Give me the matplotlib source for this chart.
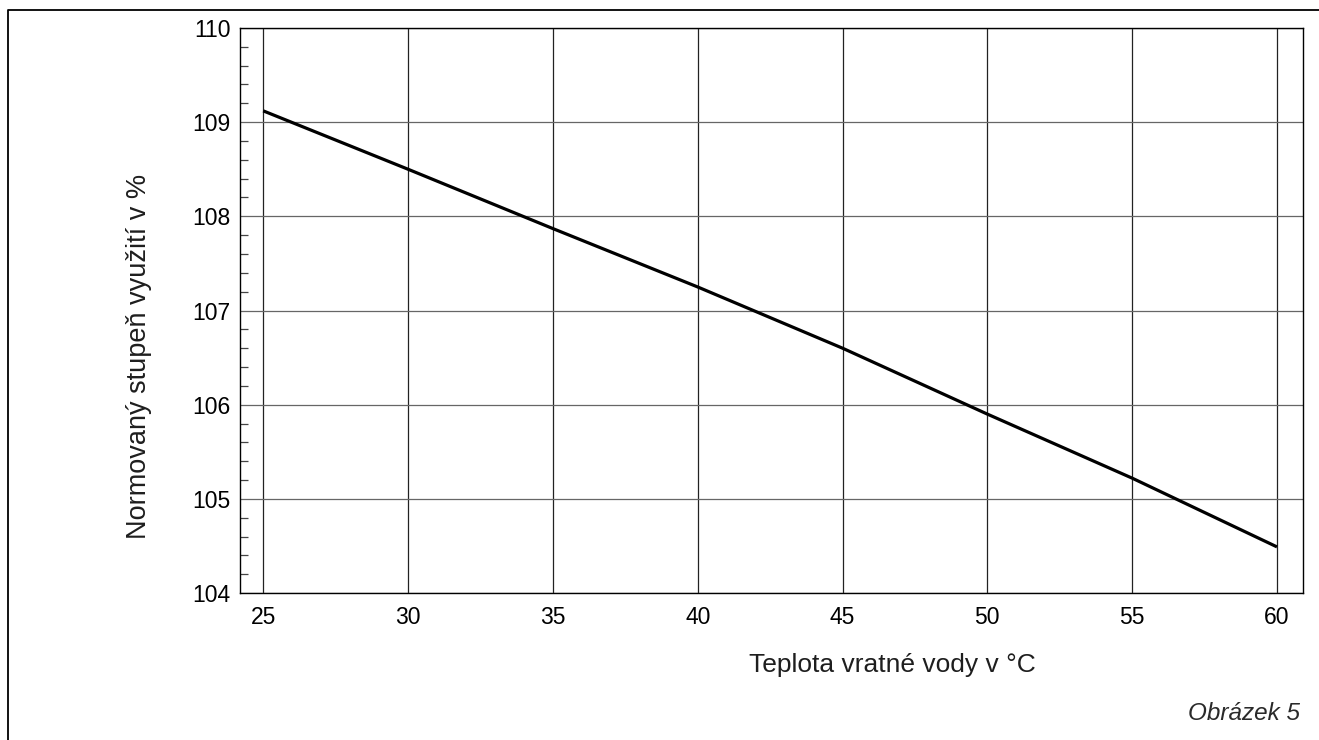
import matplotlib
matplotlib.use("Agg")
from matplotlib import pyplot as plt
from matplotlib.lines import Line2D
from matplotlib.ticker import MultipleLocator

# values
temperature = [25, 30, 35, 40, 45, 50, 55, 60]
efficiency = [109.12, 108.5, 107.87, 107.25, 106.6, 105.9, 105.22, 104.49]

x_ticks = [25, 30, 35, 40, 45, 50, 55, 60]
y_ticks = [104, 105, 106, 107, 108, 109, 110]

x_label = "Teplota vratné vody v °C"
y_label = "Normovaný stupeň využití v %"
caption = "Obrázek 5"

plt.rcParams['font.family'] = ['Liberation Sans', 'DejaVu Sans']

fig = plt.figure(figsize=(13.19, 7.40), dpi=100)
ax = fig.add_axes([0.182, 0.1986, 0.8059, 0.7636])

ax.plot(temperature, efficiency, color='black', linewidth=2.3, solid_capstyle='butt', zorder=3)

ax.set_xlim(24.2, 60.9)
ax.set_ylim(104, 110)
ax.set_xticks(x_ticks)
ax.set_yticks(y_ticks)
ax.yaxis.set_minor_locator(MultipleLocator(0.2))

ax.tick_params(axis='both', which='major', length=0, labelsize=16.5, colors='black')
ax.tick_params(axis='y', which='major', pad=7)
ax.tick_params(axis='x', which='major', pad=9)
ax.tick_params(axis='y', which='minor', direction='in', length=5.5, width=0.9, color='#444444')
ax.tick_params(axis='x', which='minor', length=0)

ax.grid(True, which='major', axis='x', color='#222222', linewidth=0.9)
ax.grid(True, which='major', axis='y', color='#666666', linewidth=0.9)
ax.set_axisbelow(True)

for sp in ax.spines.values():
    sp.set_color('black')
    sp.set_linewidth(1.0)

ax.set_xlabel(x_label, fontsize=19, color='#1e1e1e')
ax.xaxis.set_label_coords(0.614, -0.106)
ax.set_ylabel(y_label, fontsize=19.5, color='#1e1e1e')
ax.yaxis.set_label_coords(-0.083, 0.418)

fig.text(0.9856, 0.036, caption, ha='right', va='center', fontsize=17.5,
         style='italic', color='#2a2a2a')

# outer frame (left and top edges only, as in the source page)
fig.add_artist(Line2D([0.0061, 0.0061, 1.0], [0.0, 0.9865, 0.9865],
                      transform=fig.transFigure, color='black', linewidth=1.3))

plt.savefig("out.png", dpi=100)
